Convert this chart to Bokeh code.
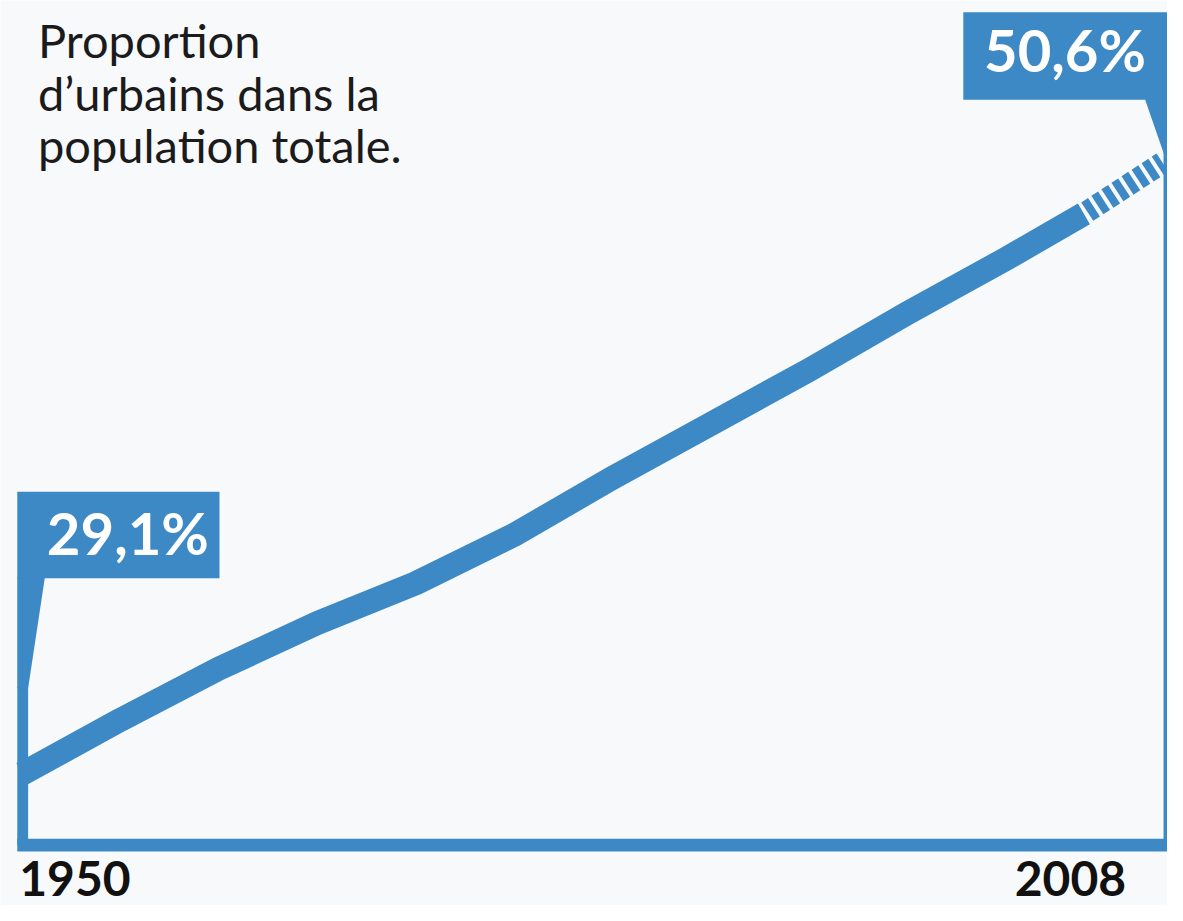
from bokeh.plotting import figure
from bokeh.models import Range1d
from bokeh.core.properties import value
from bokeh.embed import file_html
from bokeh.resources import INLINE

# ---- data ----
years = [1950, 1955, 1960, 1965, 1970, 1975, 1980, 1985, 1990, 1995, 2000, 2004]
urban_share = [29.1, 31.0, 32.8, 34.4, 35.8, 37.5, 39.5, 41.4, 43.3, 45.3, 47.2, 48.8]
proj_years = [2004, 2008]
proj_share = [48.8, 50.6]
start_label = "29,1%"
end_label = "50,6%"
year_labels = ["1950", "2008"]
title_lines = ["Proportion", "d\u2019urbains dans la", "population totale."]

# ---- styling / layout ----
BLUE = "#3d89c6"
BG = "#f8f9fb"
TXT = "#1b1b1b"
W, H = 1167, 905
REF_W, REF_H = 1183, 921

# calibration: reference pixel positions of the first/last data points
x_first_px, x_last_px = 22.0, 1178.0
y_first_px, y_last_px = 787.0, 165.0
ppx = (x_last_px - x_first_px) / (proj_years[-1] - years[0])
ppy = (y_first_px - y_last_px) / (proj_share[-1] - urban_share[0])
X0 = years[0] - x_first_px / ppx
X1 = years[0] + (REF_W - x_first_px) / ppx
Y1 = urban_share[0] + y_first_px / ppy
Y0 = urban_share[0] - (REF_H - y_first_px) / ppy


def px2x(px):
    return X0 + px * (X1 - X0) / REF_W


def px2y(py):
    return Y1 - py * (Y1 - Y0) / REF_H


p = figure(width=W, height=H, output_backend="svg", toolbar_location=None,
           x_range=Range1d(X0, X1), y_range=Range1d(Y0, Y1),
           x_axis_type=None, y_axis_type=None, min_border=0)
p.grid.visible = False
p.outline_line_color = None
p.background_fill_color = BG
p.border_fill_color = BG

# frame: bottom bar, left bar, left wedge, right thin line, right wedge
p.quad(left=[px2x(17)], right=[px2x(1195)], bottom=[px2y(866)], top=[px2y(853)],
       fill_color=BLUE, line_color=None)
p.quad(left=[px2x(17)], right=[px2x(28)], bottom=[px2y(860)], top=[px2y(699)],
       fill_color=BLUE, line_color=None)
p.patch(x=[px2x(17), px2x(45), px2x(28), px2x(17)],
        y=[px2y(587), px2y(587), px2y(700), px2y(700)],
        fill_color=BLUE, line_color=None)
p.quad(left=[px2x(1179)], right=[px2x(1195)], bottom=[px2y(860)], top=[px2y(150)],
       fill_color=BLUE, line_color=None)
p.patch(x=[px2x(1160), px2x(1195), px2x(1195), px2x(1180)],
        y=[px2y(100), px2y(100), px2y(160), px2y(158)],
        fill_color=BLUE, line_color=None)

# label boxes
p.quad(left=[px2x(17)], right=[px2x(222)], bottom=[px2y(588)], top=[px2y(500)],
       fill_color=BLUE, line_color=None)
p.quad(left=[px2x(976)], right=[px2x(1195)], bottom=[px2y(101)], top=[px2y(12)],
       fill_color=BLUE, line_color=None)

# data line
p.line(years, urban_share, line_color=BLUE, line_width=24,
       line_join="round", line_cap="butt")
p.line(proj_years, proj_share, line_color=BLUE, line_width=22,
       line_dash="8 4", line_dash_offset=-4, line_cap="butt")

# value labels (baseline compensated for renderer offset)
p.text(x=[px2x(47), px2x(997)], y=[px2y(563 - 22), px2y(72 - 22)],
       text=[start_label, end_label], text_color="white",
       text_font=value("Lato"), text_font_style="bold",
       text_font_size=value("58px"), text_baseline="alphabetic", text_align="left")

# title
p.text(x=[px2x(38)] * 3, y=[px2y(58 - 18), px2y(112 - 18), px2y(165 - 18)],
       text=title_lines, text_color=TXT, text_font=value("Lato"),
       text_font_size=value("47px"), text_baseline="alphabetic", text_align="left")

# year labels
p.text(x=[px2x(19), px2x(1141)], y=[px2y(914 - 20), px2y(914 - 20)],
       text=year_labels, text_color="#111111", text_font=value("Lato"),
       text_font_style="bold", text_font_size=value("48px"),
       text_baseline="alphabetic", text_align=["left", "right"])

open("out.html", "w").write(file_html(p, INLINE))
